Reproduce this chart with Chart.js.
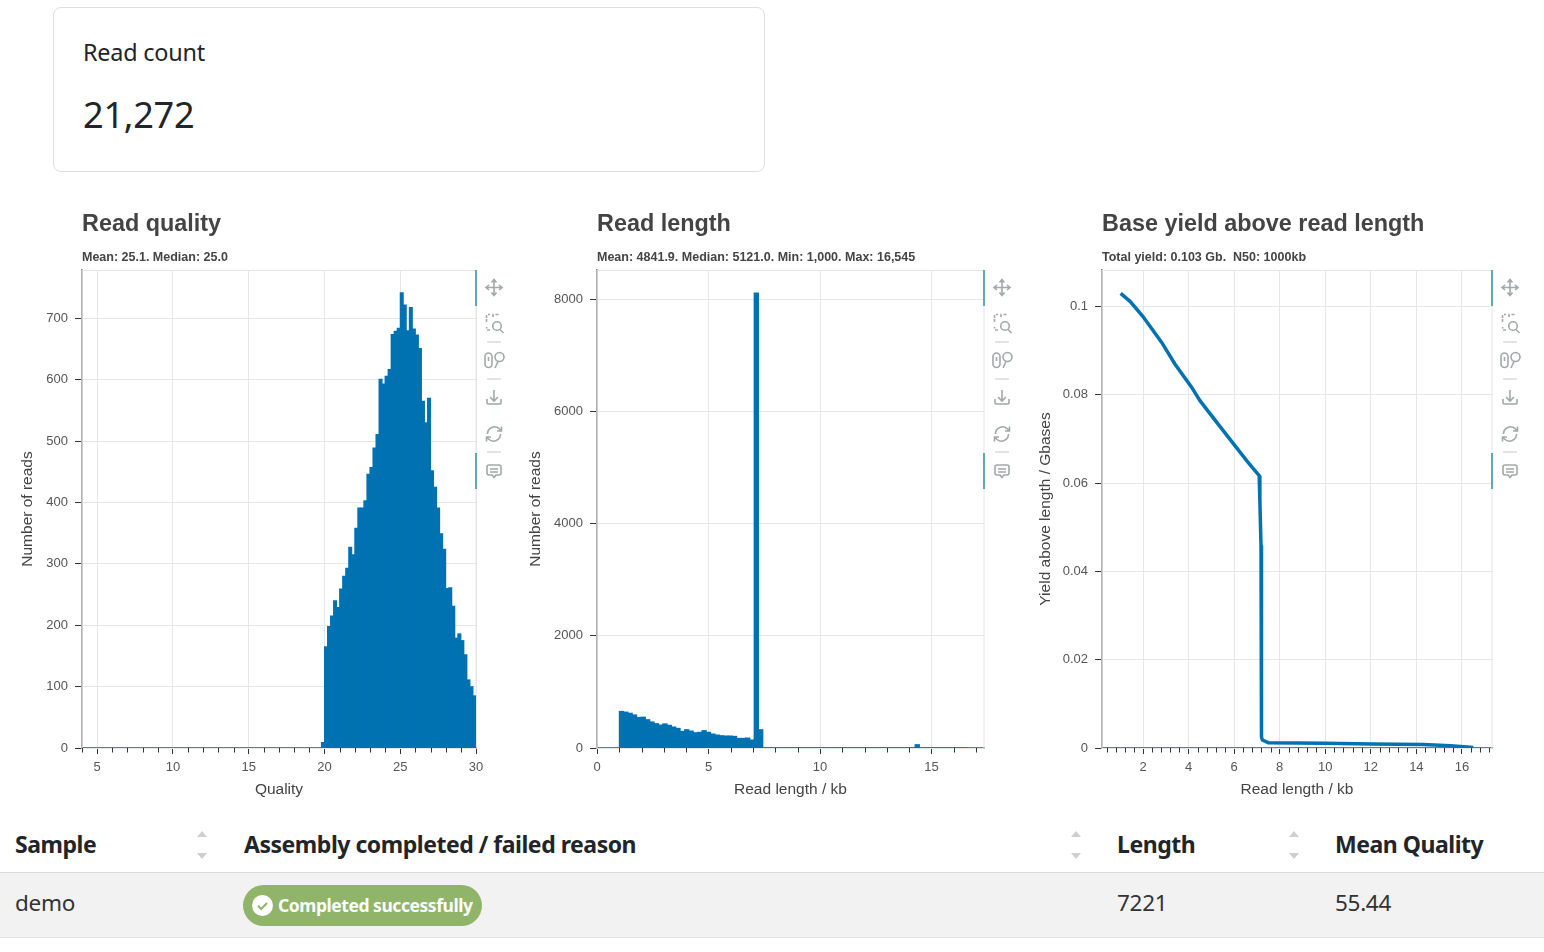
<!DOCTYPE html>
<html>
<head>
<meta charset="utf-8">
<title>Read summary</title>
<script src="https://cdn.jsdelivr.net/npm/chart.js@4"></script>
<style>
  html, body { margin: 0; padding: 0; background: #fff; width: 1544px; height: 952px; overflow: hidden; }
  body { position: relative; font-family: "Noto Sans", sans-serif; color: #212529; }
  canvas { position: absolute; top: 205px; }
  .card { position: absolute; left: 53px; top: 7px; width: 710px; height: 163px; border: 1px solid #dfdfdf; border-radius: 8px; }
  .txt { position: absolute; white-space: nowrap; line-height: 1; }
  .head { font-weight: 700; font-size: 23px; letter-spacing: -0.47px; }
  .cell { font-size: 22.5px; letter-spacing: -0.3px; color: #333; }
  .row { position: absolute; left: 0; top: 872px; width: 1544px; height: 66px; background: #f2f2f2; border-top: 1px solid #d9d9d9; border-bottom: 1px solid #e4e4e4; box-sizing: border-box; }
  .pill { position: absolute; left: 243px; top: 885px; width: 239px; height: 41px; border-radius: 21px; background: #8fb46a; }
  .tool { position: absolute; top: 270px; width: 40px; height: 220px; }
  .tool svg { position: absolute; left: 0; top: 0; }
  .mark { position: absolute; width: 2px; height: 36px; background: #5fa8b8; }
</style>
</head>
<body>
<div class="card"></div>
<div class="txt" style="left:83px;top:41px;font-size:23.4px;letter-spacing:-0.2px">Read count</div>
<div class="txt" style="left:83px;top:96px;font-size:36.2px;letter-spacing:-0.3px">21,272</div>

<canvas id="quality" width="495" height="605" style="left:0"></canvas>
<canvas id="length" width="495" height="605" style="left:508px"></canvas>
<canvas id="yield" width="495" height="605" style="left:1016px"></canvas>

<div class="txt head" style="left:15px;top:833px">Sample</div>
<div class="txt head" style="left:244px;top:833px">Assembly completed / failed reason</div>
<div class="txt head" style="left:1117px;top:833px">Length</div>
<div class="txt head" style="left:1335px;top:833px">Mean Quality</div>
<div class="row"></div>
<div class="txt cell" style="left:15px;top:892px">demo</div>
<div class="pill"></div>
<svg style="position:absolute;left:251px;top:894px" width="23" height="23" viewBox="0 0 23 23"><circle cx="11.5" cy="11.5" r="10.5" fill="#fff"/><path d="M7 11.8l3.2 3.2 5.8-6" fill="none" stroke="#8fb46a" stroke-width="2"/></svg>
<div class="txt" style="left:278px;top:897px;font-size:17.5px;font-weight:700;color:#fff;letter-spacing:-0.45px">Completed successfully</div>
<div class="txt cell" style="left:1117px;top:892px">7221</div>
<div class="txt cell" style="left:1335px;top:892px">55.44</div>

<script>
// values
const qualityFirstBin = 19.8, qualityBinWidth = 0.2;
const qualityCounts = [9, 165, 198, 215, 240, 229, 259, 280, 293, 327, 315, 358, 391, 391, 403, 446, 457,
  489, 511, 601, 593, 606, 617, 674, 679, 684, 742, 722, 680, 718, 683, 673, 651, 565, 530, 570, 452,
  425, 391, 349, 324, 260, 261, 231, 179, 186, 175, 152, 111, 100, 85];
const qualityXTicks = [5, 10, 15, 20, 25, 30];
const qualityXMinor = [4, 6, 7, 8, 9, 11, 12, 13, 14, 16, 17, 18, 19, 21, 22, 23, 24, 26, 27, 28, 29];
const qualityYTicks = [0, 100, 200, 300, 400, 500, 600, 700];

const lengthFirstBin = 1.0, lengthBinWidth = 0.195;
const lengthCounts = [653, 640, 620, 590, 545, 550, 505, 465, 435, 410, 430, 405, 375, 350, 297, 327,
  303, 273, 280, 310, 280, 250, 232, 220, 214, 214, 208, 172, 172, 178, 143, 8110, 327,
  0, 0, 0, 0, 0, 0, 0, 0, 0, 0, 0, 0, 0, 0, 0, 0, 0, 0, 0, 0, 0, 0, 0, 0, 0, 0, 0, 0, 0, 0, 0, 0, 0, 0, 0,
  60, 0, 0, 0, 0, 0, 0, 0, 0, 0, 0, 0];
const lengthXTicks = [0, 5, 10, 15];
const lengthXMinor = [1, 2, 3, 4, 6, 7, 8, 9, 11, 12, 13, 14, 16, 17];
const lengthYTicks = [0, 2000, 4000, 6000, 8000];

const yieldX = [1.02, 1.43, 1.99, 2.82, 3.40, 4.14, 4.50, 5.52, 6.55, 6.84, 7.10, 7.13, 7.18, 7.20, 7.24, 7.50, 10, 12, 14.3, 15.5, 16.5];
const yieldY = [0.1030, 0.1012, 0.0978, 0.0919, 0.0870, 0.0817, 0.0787, 0.0719, 0.0651, 0.0633, 0.0617, 0.0561, 0.0459, 0.0025, 0.0018, 0.0012, 0.00105, 0.0009, 0.0008, 0.0005, 0.0001];
const yieldXTicks = [2, 4, 6, 8, 10, 12, 14, 16];
const yieldXMinor = [0.4, 0.8, 1.2, 1.6, 2.4, 2.8, 3.2, 3.6, 4.4, 4.8, 5.2, 5.6, 6.4, 6.8, 7.2, 7.6, 8.4, 8.8, 9.2, 9.6,
  10.4, 10.8, 11.2, 11.6, 12.4, 12.8, 13.2, 13.6, 14.4, 14.8, 15.2, 15.6, 16.4, 16.8, 17.2];
const yieldYTicks = [0, 0.02, 0.04, 0.06, 0.08, 0.1];

const blue = '#0072b2';
const gridColor = '#e6e6e6';
const sansFont = '"Liberation Sans", Arial, sans-serif';

// short extra ticks between the labelled ones, plus the light frame round the plot
const framePlugin = {
  id: 'frame',
  beforeDatasetsDraw(chart, args, opts) {
    const a = chart.chartArea, ctx = chart.ctx;
    ctx.save();
    ctx.strokeStyle = gridColor;
    ctx.lineWidth = 1;
    ctx.strokeRect(a.left, a.top + 0.5, a.right - a.left, a.bottom - a.top);
    ctx.restore();
  },
  afterDraw(chart, args, opts) {
    const a = chart.chartArea, ctx = chart.ctx, x = chart.scales.x;
    ctx.save();
    ctx.strokeStyle = '#333';
    ctx.lineWidth = 1;
    ctx.beginPath();
    opts.minor.forEach(v => {
      const px = Math.round(x.getPixelForValue(v)) + 0.5;
      ctx.moveTo(px, a.bottom);
      ctx.lineTo(px, a.bottom + 4.5);
    });
    ctx.stroke();
    ctx.restore();
  }
};

function histogram(first, width, counts) {
  return counts.map((c, i) => ({ x: first + width * (i + 0.5), y: c }));
}

function makeChart(id, c) {
  const fixedTicks = list => axis => { axis.ticks = list.map(v => ({ value: v })); };
  const labelFont = { family: sansFont, size: 15.5 };
  const tickFont = { family: sansFont, size: 13 };
  new Chart(document.getElementById(id), {
    type: c.type,
    data: { datasets: [c.dataset] },
    plugins: [framePlugin],
    options: {
      responsive: false,
      animation: false,
      layout: { padding: { top: 6, right: 19, left: 0, bottom: 0 } },
      plugins: {
        legend: { display: false },
        tooltip: { enabled: false },
        frame: { minor: c.xMinor },
        title: {
          display: true, text: c.title, align: 'start', fullSize: false, color: '#444',
          font: { family: sansFont, size: 23.4, weight: 'bold' }, padding: { top: 0, bottom: 11.2 }
        },
        subtitle: {
          display: true, text: c.subtitle, align: 'start', fullSize: false, color: '#444',
          font: { family: sansFont, size: 12.5, weight: 'bold' }, padding: { top: 0, bottom: 4.7 }
        }
      },
      scales: {
        x: {
          type: 'linear', offset: false, min: c.xMin, max: c.xMax,
          afterBuildTicks: fixedTicks(c.xTicks),
          afterFit: axis => { axis.height = 62; },
          grid: { offset: false, color: gridColor, tickColor: '#333', tickLength: 6 },
          border: { color: '#667c88', width: 1.5 },
          ticks: { font: tickFont, color: '#555', padding: 6, maxRotation: 0, autoSkip: false, callback: v => String(v) },
          title: { display: true, text: c.xTitle, color: '#444', font: labelFont, padding: 10.7 }
        },
        y: {
          type: 'linear', min: 0, max: c.yMax,
          afterBuildTicks: fixedTicks(c.yTicks),
          afterFit: axis => { axis.width = c.axisWidth; },
          grid: { color: gridColor, tickColor: '#333', tickLength: 7 },
          border: { color: '#7a7a7a', width: 1.5 },
          ticks: { font: tickFont, color: '#555', padding: 7, autoSkip: false, callback: v => String(v) },
          title: { display: true, text: c.yTitle, color: '#444', font: labelFont, padding: c.titleGap }
        }
      }
    }
  });
}

function barSet(points) {
  return { data: points, backgroundColor: blue, borderWidth: 0, barPercentage: 1, categoryPercentage: 1, inflateAmount: 0.5 };
}

makeChart('quality', {
  type: 'bar',
  title: 'Read quality',
  subtitle: 'Mean: 25.1. Median: 25.0',
  dataset: barSet(histogram(qualityFirstBin, qualityBinWidth, qualityCounts)),
  xMin: 4, xMax: 30, yMax: 779, xTicks: qualityXTicks, xMinor: qualityXMinor, yTicks: qualityYTicks,
  xTitle: 'Quality', yTitle: 'Number of reads', axisWidth: 82, titleGap: 18.7
});

makeChart('length', {
  type: 'bar',
  title: 'Read length',
  subtitle: 'Mean: 4841.9. Median: 5121.0. Min: 1,000. Max: 16,545',
  dataset: barSet(histogram(lengthFirstBin, lengthBinWidth, lengthCounts)),
  xMin: 0, xMax: 17.35, yMax: 8520, xTicks: lengthXTicks, xMinor: lengthXMinor, yTicks: lengthYTicks,
  xTitle: 'Read length / kb', yTitle: 'Number of reads', axisWidth: 89, titleGap: 18.7
});

makeChart('yield', {
  type: 'line',
  title: 'Base yield above read length',
  subtitle: 'Total yield: 0.103 Gb.  N50: 1000kb',
  dataset: {
    data: yieldX.map((x, i) => ({ x: x, y: yieldY[i] })),
    borderColor: blue, borderWidth: 3.5, pointRadius: 0, tension: 0, fill: false
  },
  xMin: 0.2, xMax: 17.32, yMax: 0.1083, xTicks: yieldXTicks, xMinor: yieldXMinor, yTicks: yieldYTicks,
  xTitle: 'Read length / kb', yTitle: 'Yield above length / Gbases', axisWidth: 86, titleGap: 20.2
});

// grey tool strip beside each plot
const toolIcons = `
<svg width="40" height="220" viewBox="0 0 40 220" fill="none" stroke="#a3a8a8" stroke-width="1.6">
  <path d="M18 10v15M10.500 17.500h15M15.500 12.500l2.500-3 2.500 3M15.500 22.500l2.500 3 2.500-3M13 15l-3 2.500 3 2.500M23 15l3 2.500-3 2.500"/>
  <path d="M14 60h-3.500v-3M10.500 52v-3M10.500 48v-3.500H14M17 47v-2.500h6" stroke-dasharray="3 2"/>
  <circle cx="21" cy="56" r="4.300"/><path d="M24 59.500l3.500 3.500"/>
  <path d="M11 72h14" stroke-width="1" stroke="#c8c8c8"/>
  <rect x="9" y="83" width="7" height="14.500" rx="3.500"/><path d="M12.500 87v4"/>
  <circle cx="23.500" cy="87" r="4.500"/><path d="M22 91.500l-3 6.500"/>
  <path d="M11 109h14" stroke-width="1" stroke="#c8c8c8"/>
  <path d="M18 120v11M14 127l4 4 4-4M11 129v3.500a1.500 1.500 0 0 0 1.500 1.500h11a1.500 1.500 0 0 0 1.500-1.500V129"/>
  <path d="M11.500 164a7 7 0 0 1 12-5l2 2M24.500 164a7 7 0 0 1-12 5l-2-2M25.500 156.500v4.500h-4.500M10.500 171.500V167H15"/>
  <path d="M11 182h14" stroke-width="1" stroke="#c8c8c8"/>
  <path d="M13 195h10a2 2 0 0 1 2 2v6a2 2 0 0 1-2 2h-3l-2 2.500-2-2.500h-3a2 2 0 0 1-2-2v-6a2 2 0 0 1 2-2zM14 199h8M14 202h8"/>
</svg>`;
[0, 508, 1016].forEach(dx => {
  const strip = document.createElement('div');
  strip.className = 'tool';
  strip.style.left = (476 + dx) + 'px';
  strip.innerHTML = toolIcons;
  document.body.appendChild(strip);
  [270, 453].forEach(top => {
    const m = document.createElement('div');
    m.className = 'mark';
    m.style.left = (475 + dx) + 'px';
    m.style.top = top + 'px';
    document.body.appendChild(m);
  });
});

// sort arrows in the table head
[202, 1076, 1294].forEach(x => {
  document.body.insertAdjacentHTML('beforeend',
    `<svg style="position:absolute;left:${x - 6}px;top:828px" width="12" height="34" viewBox="0 0 12 34" fill="#cfcfcf"><path d="M1 9l5-6 5 6zM1 25l5 6 5-6z"/></svg>`);
});
</script>
</body>
</html>
